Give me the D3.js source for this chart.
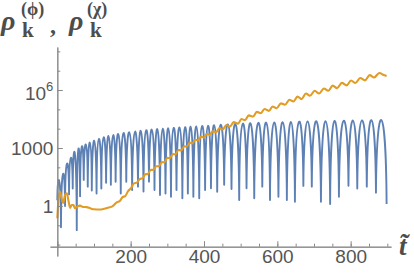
<!DOCTYPE html>
<html>
<head>
<meta charset="utf-8">
<script src="https://cdn.jsdelivr.net/npm/d3@7"></script>
<style>
body { margin: 0; background: #fff; }
svg { display: block; }
</style>
</head>
<body>
<svg width="414" height="273"></svg>
<script>
// rho_k^(phi): times of the dips, and log10 value at each dip / arch top
var blueTroughT = [0, 10, 21, 32, 42, 53, 62, 72, 83, 94,
	107, 120, 133, 146, 159, 173, 188, 204, 220, 235,
	250, 265, 280, 295, 310, 325, 341, 356, 371, 387,
	403, 419, 436, 455, 475, 496, 516, 537, 559, 580,
	603, 626, 648, 671, 694, 719, 744, 768, 794, 818,
	844, 869, 898];
var blueTroughExp = [0.3, -1.1, 0.0, 0.6, 0.9, -1.25, 0.5, 1.35, 1.0, 0.8,
	0.65, 0.9, 1.2, 1.1, 1.25, 0.65, 1.25, 0.83, 1.0, 0.75,
	1.26, 0.83, 0.57, 0.65, 0.48, 0.83, 0.4, 0.65, 0.48, 0.4,
	0.83, 0.92, 0.74, 1.1, 0.88, 0.31, 0.92, 0.4, 1.0, 0.31,
	0.48, 0.31, 0.22, 1.04, 1.0, 0.22, 0.1, 0.48, 1.05, 0.9,
	1.0, 0.69, 0.1];
var bluePeakExp = [1.3, 1.65, 2.2, 2.5, 2.75, 2.95, 3.08, 3.18, 3.28, 3.38,
	3.47, 3.55, 3.62, 3.67, 3.72, 3.77, 3.81, 3.85, 3.89, 3.92,
	3.95, 3.98, 4.0, 4.02, 4.04, 4.06, 4.08, 4.1, 4.12, 4.14,
	4.16, 4.18, 4.2, 4.22, 4.24, 4.26, 4.28, 4.3, 4.31, 4.32,
	4.34, 4.35, 4.36, 4.37, 4.38, 4.39, 4.4, 4.41, 4.42, 4.43,
	4.44, 4.45];

// rho_k^(chi): log10 values
var orangeT = [0, 3, 7, 11, 16, 21, 26, 30, 35, 39, 44, 48, 55, 62, 70, 80, 90, 100, 116, 128, 140, 150,
	163, 170, 178, 185, 193, 201, 209, 217, 225, 232, 240, 247, 255, 262, 270, 277, 285, 292,
	300, 307, 315, 322, 330, 338, 346, 353, 361, 368, 376, 384, 392, 400, 408, 416, 424, 433,
	442, 451, 461, 471, 481, 493, 502, 512, 522, 534, 544, 555, 565, 577, 587, 598, 610, 621,
	633, 644, 655, 666, 678, 689, 702, 714, 727, 739, 751, 763, 776, 789, 801, 813, 826, 839,
	852, 864, 878, 892, 898];
var orangeExp = [-0.64, 0.3, 0.75, 0.45, 0.16, 0.57, 0.66, 0.31, -0.1, 0.05, 0.05, -0.12, -0.02, 0.02, -0.05, -0.06, -0.12, -0.17, -0.18, -0.14, -0.08, -0.02,
	0.2, 0.25, 0.46, 0.51, 0.77, 0.92, 1.17, 1.21, 1.4, 1.43, 1.64, 1.66, 1.87, 1.87, 2.06, 2.06, 2.27, 2.26,
	2.49, 2.48, 2.69, 2.67, 2.9, 2.88, 3.09, 3.07, 3.28, 3.24, 3.43, 3.39, 3.59, 3.54, 3.73, 3.68, 3.87, 3.82,
	4.03, 3.96, 4.19, 4.11, 4.34, 4.26, 4.5, 4.44, 4.69, 4.63, 4.87, 4.8, 5.02, 4.92, 5.15, 5.06, 5.31, 5.24,
	5.5, 5.41, 5.66, 5.53, 5.82, 5.7, 5.96, 5.82, 6.08, 5.96, 6.23, 6.1, 6.37, 6.24, 6.49, 6.36, 6.62, 6.5,
	6.77, 6.65, 6.88, 6.76, 6.72];

var xMajorTicks = [0, 200, 400, 600, 800];
var xMinorTicks = [0, 50, 100, 150, 200, 250, 300, 350, 400, 450, 500, 550, 600, 650, 700, 750, 800, 850, 900];
var yMajorTicks = [1, 1000, 1e6];
var yMinorTicks = [1e-2, 1e-1, 1, 10, 100, 1000, 1e4, 1e5, 1e6, 1e7, 1e8];

var svg = d3.select('svg');
var axisColor = '#8a8a8a';
var labelColor = '#555';

var xScale = d3.scaleLinear().domain([-20, 910]).range([50, 391]);
var yScale = d3.scaleLog().domain([Math.pow(10, -2.587), Math.pow(10, 8.226)]).range([256, 47]);
var xAxisY = yScale(Math.pow(10, -2.105));

function pow10(e) {
	return Math.pow(10, e);
}

// blue: one arch per oscillation, sharp at the dips, round at the top
var p = d3.path();
p.moveTo(xScale(blueTroughT[0]), yScale(pow10(blueTroughExp[0])));
for (var i = 0; i < bluePeakExp.length; i++) {
	var x0 = xScale(blueTroughT[i]), x1 = xScale(blueTroughT[i + 1]);
	var y0 = yScale(pow10(blueTroughExp[i])), y1 = yScale(pow10(blueTroughExp[i + 1]));
	var yp = yScale(pow10(bluePeakExp[i]));
	var c = (8 * yp - y0 - y1) / 6;
	var dx = (x1 - x0) * 0.06;
	p.bezierCurveTo(x0 + dx, c, x1 - dx, c, x1, y1);
}

svg.append('path')
	.attr('d', p.toString())
	.attr('fill', 'none')
	.attr('stroke', '#5e81b5')
	.attr('stroke-width', 1.9)
	.attr('stroke-linejoin', 'round');

var orangeLine = d3.line()
	.x(function (d) { return xScale(orangeT[d]); })
	.y(function (d) { return yScale(pow10(orangeExp[d])); })
	.curve(d3.curveMonotoneX);

svg.append('path')
	.datum(d3.range(orangeT.length))
	.attr('d', orangeLine)
	.attr('fill', 'none')
	.attr('stroke', '#e19c24')
	.attr('stroke-width', 2.1)
	.attr('stroke-linejoin', 'round');

// axes
function styleAxis(g) {
	g.attr('font-size', 19).attr('font-family', '"Liberation Sans", Arial, sans-serif');
	g.selectAll('path.domain').attr('stroke', axisColor);
	g.selectAll('.tick line').attr('stroke', axisColor);
	g.selectAll('.tick text').attr('fill', labelColor);
}

svg.append('g')
	.attr('transform', 'translate(0,' + xAxisY + ')')
	.call(d3.axisBottom(xScale).tickValues(xMinorTicks).tickSizeInner(-3).tickSizeOuter(0).tickFormat(''))
	.call(styleAxis);

svg.append('g')
	.attr('transform', 'translate(0,' + xAxisY + ')')
	.call(d3.axisBottom(xScale).tickValues(xMajorTicks).tickSizeInner(-5.5).tickSizeOuter(0).tickPadding(3)
		.tickFormat(function (d) { return d === 0 ? '' : d; }))
	.call(styleAxis);

svg.append('g')
	.attr('transform', 'translate(' + xScale(0) + ',0)')
	.call(d3.axisLeft(yScale).tickValues(yMinorTicks).tickSizeInner(-3).tickSizeOuter(0).tickFormat(''))
	.call(styleAxis);

var yAxisG = svg.append('g')
	.attr('transform', 'translate(' + xScale(0) + ',0)')
	.call(d3.axisLeft(yScale).tickValues(yMajorTicks).tickSizeInner(-5.5).tickSizeOuter(0).tickPadding(4)
		.tickFormat(function (d) { return d >= 1e6 ? '' : String(d); }))
	.call(styleAxis);

// 10^6 with a real superscript
yAxisG.selectAll('.tick text')
	.filter(function (d) { return d >= 1e6; })
	.attr('dy', '0.49em')
	.each(function (d) {
		var t = d3.select(this);
		t.append('tspan').text('10');
		t.append('tspan').attr('font-size', 13).attr('dy', -8.6).text(Math.round(Math.log10(d)));
	});

// axis labels
var title = svg.append('g')
	.attr('font-family', '"Liberation Serif", "DejaVu Serif", serif')
	.attr('font-weight', 'bold')
	.attr('fill', '#4d4d4d');

title.append('text').attr('x', 1).attr('y', 30).attr('font-size', 28).attr('font-style', 'italic').text('ρ');
title.append('text').attr('x', 22).attr('y', 37).attr('font-size', 21).text('k');
title.append('text').attr('x', 21).attr('y', 15).attr('font-size', 18).text('(ϕ)');
title.append('text').attr('x', 50).attr('y', 33).attr('font-size', 24).text(',');
title.append('text').attr('x', 69).attr('y', 30).attr('font-size', 28).attr('font-style', 'italic').text('ρ');
title.append('text').attr('x', 90).attr('y', 37).attr('font-size', 21).text('k');
title.append('text').attr('x', 87).attr('y', 15).attr('font-size', 18).text('(χ)');

svg.append('text')
	.attr('x', 399)
	.attr('y', 255)
	.attr('font-family', '"Liberation Serif", "DejaVu Serif", serif')
	.attr('font-style', 'italic')
	.attr('font-weight', 'bold')
	.attr('font-size', 27)
	.attr('fill', '#4d4d4d')
	.text('t\u0303');
</script>
</body>
</html>
